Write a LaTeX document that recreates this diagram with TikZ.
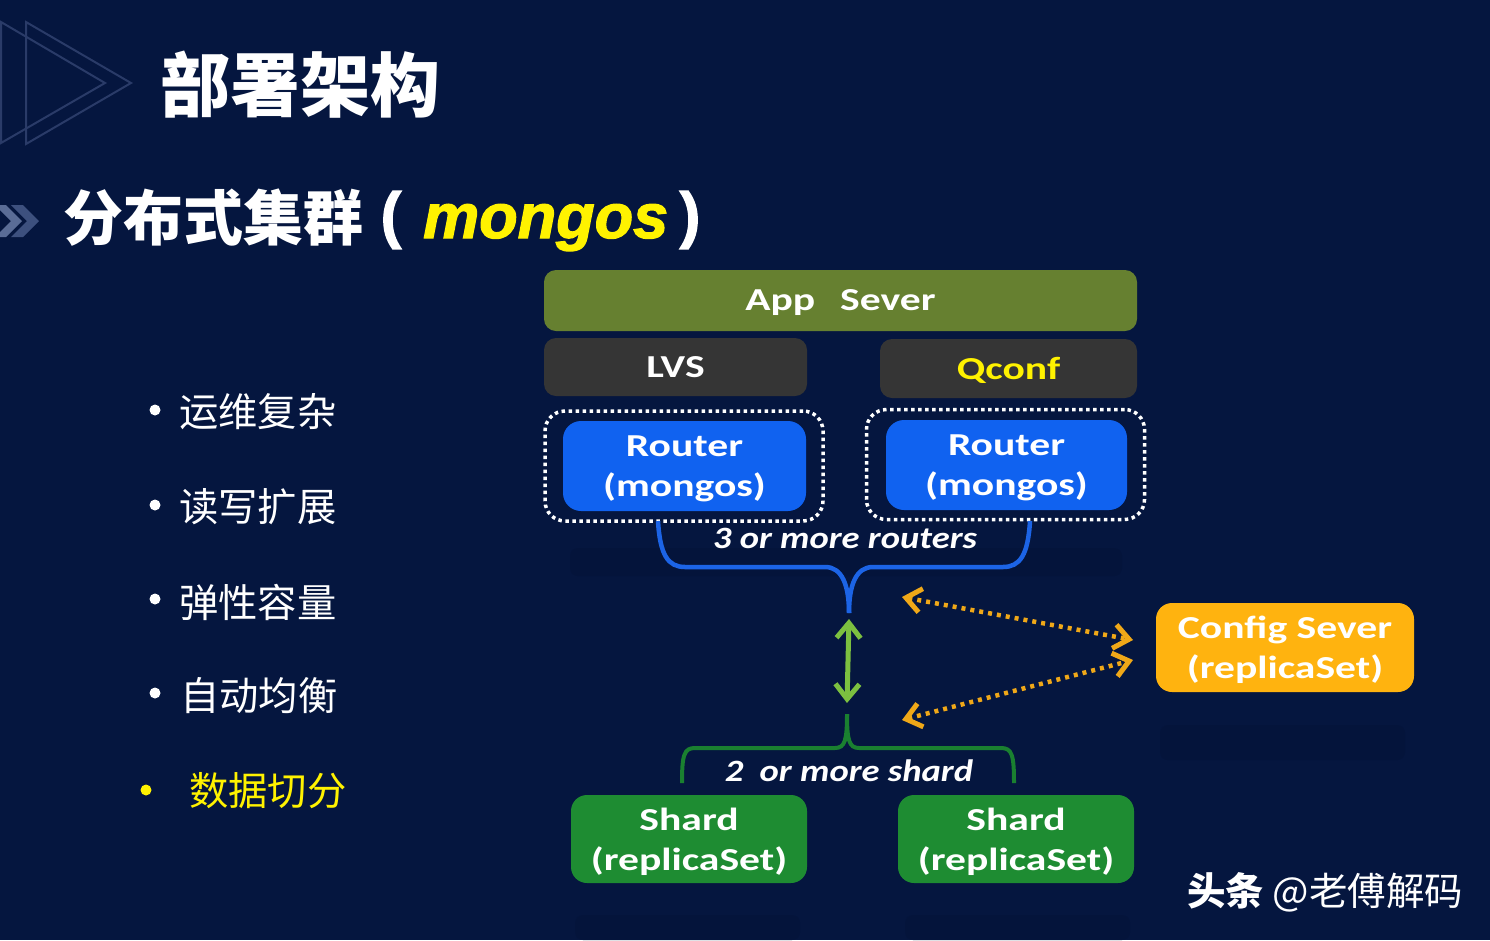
\documentclass[tikz,border=0pt]{standalone}
\usepackage{fontspec}
\setmainfont{Noto Sans CJK SC}
\newfontfamily\boxfont[FakeStretch=1.3]{Carlito}
\newfontfamily\notefont[FakeStretch=1.18]{Carlito}
\newfontfamily\latinfont[FakeBold=2]{Liberation Sans}
\usetikzlibrary{arrows.meta}
\definecolor{BGBLUE}{HTML}{05163F}
\definecolor{SHADOWBLUE}{HTML}{04143B}
\definecolor{APPGREEN}{HTML}{668030}
\definecolor{DARKGREY}{HTML}{353535}
\definecolor{ROUTERBLUE}{HTML}{1062F0}
\definecolor{SHARDGREEN}{HTML}{1E8C32}
\definecolor{CONFIGORANGE}{HTML}{FFB30F}
\definecolor{ARROWGREEN}{HTML}{7CC040}
\definecolor{ARROWORANGE}{HTML}{F0A818}
\definecolor{BRACEGREEN}{HTML}{1A8030}
\definecolor{BRACEBLUE}{HTML}{1C64E6}
\definecolor{DECOLINE}{HTML}{2A3B68}
\definecolor{CHEVA}{HTML}{5A6C96}
\definecolor{CHEVB}{HTML}{3D507E}
\tikzset{
    box/.style={inner sep=0pt, outer sep=0pt, rounded corners=12pt, align=center, text=white, text depth=-1pt,
        font=\boxfont\bfseries\fontsize{32}{40}\selectfont},
    dotbox/.style={draw=white, line width=3.5pt, dash pattern=on 3.5pt off 3.5pt, rounded corners=20pt,
        inner sep=0pt, minimum width=278pt, minimum height=110pt},
    listitem/.style={anchor=west, inner sep=0pt, text=white, font=\fontsize{39.3}{44}\selectfont},
    dotnode/.style={circle, inner sep=0pt, minimum size=11pt, fill=white},
    note/.style={inner sep=0pt, text=white, font=\notefont\bfseries\itshape\fontsize{31}{36}\selectfont},
    dblarrow/.style={{Straight Barb[length=15pt,width=24pt,line width=5pt]}-{Straight Barb[length=15pt,width=24pt,line width=5pt]}},
}
\begin{document}
\begin{tikzpicture}[x=1pt, y=-1pt]
        \clip (0,0) rectangle (1490,940);
        \fill[BGBLUE] (0,0) rectangle (1490,940);
        % corner marks
        \draw[DECOLINE, line width=2pt] (1,22) -- (105,83) -- (1,143) -- cycle;
        \draw[DECOLINE, line width=2pt] (26,22) -- (131,83) -- (26,144) -- cycle;
        \fill[CHEVA] (-5,205) -- (6,205) -- (22,221) -- (6,237) -- (-5,237) -- (11,221) -- cycle;
        \fill[CHEVB] (11,205) -- (23,205) -- (39,221) -- (23,237) -- (11,237) -- (27,221) -- cycle;
        % faint reflections
        \fill[SHADOWBLUE, rounded corners=8pt] (570,548) rectangle (1122,576);
        \fill[SHADOWBLUE, rounded corners=8pt] (1160,725) rectangle (1405,760);
        \fill[SHADOWBLUE, rounded corners=8pt] (575,915) rectangle (800,940);
        \fill[SHADOWBLUE, rounded corners=8pt] (905,915) rectangle (1130,940);
        % headings
        \node[anchor=west, inner sep=0pt, text=white, font=\bfseries\fontsize{70}{72}\selectfont] (TITLE) at (160,85) {
            部署架构
        };
        \node[anchor=west, inner sep=0pt, text=white, font=\bfseries\fontsize{60}{64}\selectfont] (SUBTITLE) at (63,218) {
            分布式集群
        };
        \node[inner sep=0pt, text=white, font=\latinfont\bfseries\fontsize{62}{64}\selectfont] (OPENP) at (391,220) {
            (
        };
        \node[anchor=base west, inner sep=0pt, text=yellow, font=\latinfont\bfseries\itshape\fontsize{63}{64}\selectfont] (MONGOS) at (423,238) {
            mongos
        };
        \node[inner sep=0pt, text=white, font=\latinfont\bfseries\fontsize{62}{64}\selectfont] (CLOSEP) at (690,220) {
            )
        };
        % list
        \node[dotnode] (DOTA) at (155,410) {};
        \node[dotnode] (DOTB) at (155,505) {};
        \node[dotnode] (DOTC) at (155,599) {};
        \node[dotnode] (DOTD) at (155,693) {};
        \node[dotnode, fill=yellow] (DOTE) at (146,790) {};
        \node[listitem] (ITEMA) at (179,412) {运维复杂};
        \node[listitem] (ITEMB) at (179,507) {读写扩展};
        \node[listitem] (ITEMC) at (179,602) {弹性容量};
        \node[listitem] (ITEMD) at (180,696) {自动均衡};
        \node[listitem, text=yellow] (ITEME) at (189,791) {数据切分};
        % boxes
        \node[box, fill=APPGREEN, minimum width=593pt, minimum height=61pt] (APP) at (840.5,300.5) {App\hspace{25pt}Sever};
        \node[box, fill=DARKGREY, minimum width=263pt, minimum height=58pt] (LVS) at (675.5,367) {LVS};
        \node[box, fill=DARKGREY, minimum width=257pt, minimum height=59pt, text=yellow] (QCONF) at (1008.5,368.5) {Qconf};
        \node[dotbox] (DOTL) at (684,466) {};
        \node[dotbox] (DOTR) at (1005.5,464.5) {};
        \node[box, fill=ROUTERBLUE, minimum width=243pt, minimum height=90pt, rounded corners=18pt] (ROUTERL) at (684.5,466) {
            Router\\(mongos)
        };
        \node[box, fill=ROUTERBLUE, minimum width=241pt, minimum height=90pt, rounded corners=18pt] (ROUTERR) at (1006.5,465) {
            Router\\(mongos)
        };
        \node[note] (ROUTERNOTE) at (845,538) {
            3 or more routers
        };
        \node[box, fill=CONFIGORANGE, minimum width=258pt, minimum height=89pt, rounded corners=16pt] (CONFIG) at (1285,647.5) {
            Config Sever\\(replicaSet)
        };
        \node[note] (SHARDNOTE) at (849,771) {
            2\hspace{8pt} or more shard
        };
        \node[box, fill=SHARDGREEN, minimum width=236pt, minimum height=88pt, rounded corners=16pt] (SHARDL) at (689,839) {
            Shard\\(replicaSet)
        };
        \node[box, fill=SHARDGREEN, minimum width=236pt, minimum height=88pt, rounded corners=16pt] (SHARDR) at (1016,839) {
            Shard\\(replicaSet)
        };
        \node[anchor=west, inner sep=0pt, text=white, font=\fontsize{38.5}{40}\selectfont] (MARK) at (1187,892) {
            {\bfseries 头条} @老傅解码
        };
        % free ends
        \coordinate (BLUEL) at (658,521);
        \coordinate (BLUER) at (1030,521);
        \coordinate (BLUETIP) at (849,613);
        \coordinate (LINKTOP) at (849,619);
        \coordinate (LINKBOT) at (847,703);
        \coordinate (GREENTIP) at (847,714);
        \coordinate (GREENL) at (682,783);
        \coordinate (GREENR) at (1014,783);
        \coordinate (ORANGEA) at (902,597);
        \coordinate (ORANGEB) at (1133,640);
        \coordinate (ORANGEC) at (902,720);
        \coordinate (ORANGED) at (1133,660);
        % braces
        \draw[BRACEBLUE, line width=4.5pt] (BLUEL) .. controls (660,555) and (668,567) .. (685,567) -- (825,567)
            .. controls (842,567) and (849,585) .. (BLUETIP);
        \draw[BRACEBLUE, line width=4.5pt] (BLUER) .. controls (1028,555) and (1020,567) .. (1003,567) -- (873,567)
            .. controls (856,567) and (849,585) .. (BLUETIP);
        \draw[BRACEGREEN, line width=4pt] (GREENL) .. controls (682,755) and (684,748) .. (695,748) -- (835,748)
            .. controls (845,748) and (847,740) .. (GREENTIP);
        \draw[BRACEGREEN, line width=4pt] (GREENR) .. controls (1014,755) and (1012,748) .. (1001,748) -- (859,748)
            .. controls (849,748) and (847,740) .. (GREENTIP);
        % arrows
        \draw[dblarrow, ARROWGREEN, line width=5pt] (LINKTOP) -- (LINKBOT);
        \draw[dblarrow, ARROWORANGE, line width=4.5pt, dash pattern=on 4pt off 5pt] (ORANGEA) -- (ORANGEB);
        \draw[dblarrow, ARROWORANGE, line width=4.5pt, dash pattern=on 4pt off 5pt] (ORANGEC) -- (ORANGED);
\end{tikzpicture}
\end{document}
